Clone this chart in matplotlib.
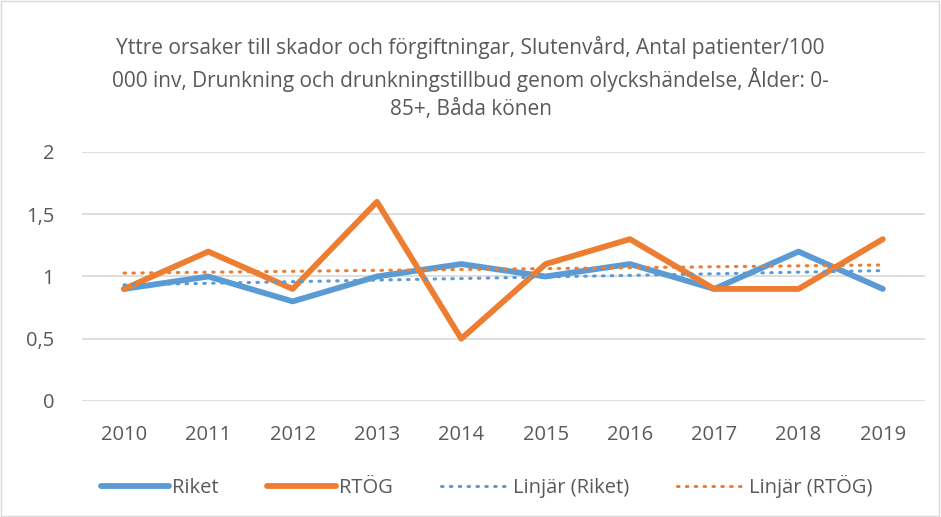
import numpy as np
import matplotlib
matplotlib.use("Agg")
import matplotlib.pyplot as plt
from matplotlib.patches import Rectangle

years = ["2010", "2011", "2012", "2013", "2014", "2015", "2016", "2017", "2018", "2019"]
riket = [0.9, 1.0, 0.8, 1.0, 1.1, 1.0, 1.1, 0.9, 1.2, 0.9]
rtog = [0.9, 1.2, 0.9, 1.6, 0.5, 1.1, 1.3, 0.9, 0.9, 1.3]
yticks = [0, 0.5, 1, 1.5, 2]
ytick_labels = ["0", "0,5", "1", "1,5", "2"]
title = ("Yttre orsaker till skador och förgiftningar, Slutenvård, Antal patienter/100\n"
         "000 inv, Drunkning och drunkningstillbud genom olyckshändelse, Ålder: 0-\n"
         "85+, Båda könen")

plt.rcParams['font.family'] = ['Open Sans', 'DejaVu Sans']
blue = "#5b9bd5"
orange = "#ed7d31"
grey = "#595959"

fig = plt.figure(figsize=(9.41, 5.17), dpi=100)
ax = fig.add_axes([0.087, 0.2244, 0.896, 0.4816])

x = np.arange(len(years))
ax.plot(x, riket, color=blue, lw=4.2, label="Riket", solid_capstyle="round", zorder=3)
ax.plot(x, rtog, color=orange, lw=4.2, label="RTÖG", solid_capstyle="round", zorder=4)

# linear trend lines like Excel's "Linjär"
for vals, col, name in [(riket, blue, "Linjär (Riket)"), (rtog, orange, "Linjär (RTÖG)")]:
    k, m = np.polyfit(x, vals, 1)
    ax.plot(x, k * x + m, color=col, lw=2.2, ls=(0, (0.5, 2.4)), dash_capstyle="round",
            label=name, zorder=5)

ax.set_xlim(-0.5, len(years) - 0.5)
ax.set_ylim(0, 2)
ax.set_yticks(yticks)
ax.set_yticklabels(ytick_labels)
ax.set_xticks(x)
ax.set_xticklabels(years)
ax.grid(axis="y", color="#d9d9d9", lw=1.2)
ax.set_axisbelow(True)
for s in ax.spines.values():
    s.set_visible(False)
ax.tick_params(length=0, labelsize=14.5, colors=grey, pad=17)
ax.tick_params(axis="y", pad=20)

fig.text(0.5, 0.93, title, ha="center", va="top", fontsize=15, color=grey, linespacing=1.42)

ax.legend(loc="upper center", bbox_to_anchor=(0.48, -0.225), ncol=4, frameon=False,
          fontsize=14.5, labelcolor=grey, handlelength=3.4, handletextpad=0.15, columnspacing=2.4)

fig.patches.append(Rectangle((0.001, 0.001), 0.997, 0.997, transform=fig.transFigure,
                             fill=False, edgecolor="#d9d9d9", lw=1))

fig.savefig("out.png", dpi=100)
